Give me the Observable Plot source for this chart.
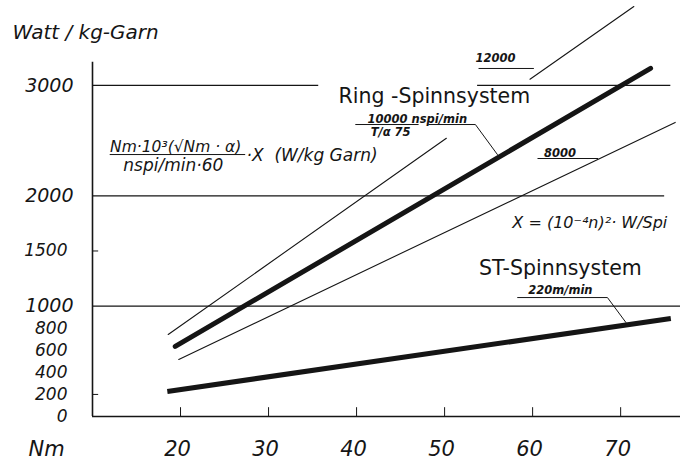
<!DOCTYPE html>
<html><head><meta charset="utf-8">
<script src="https://cdn.jsdelivr.net/npm/d3@7"></script>
<script src="https://cdn.jsdelivr.net/npm/@observablehq/plot@0.6"></script>
<style>
body{margin:0;background:#fff}
svg{font-family:"DejaVu Sans",sans-serif}
</style></head><body><div id="chart"></div>
<script>
// ---- data ----
const nmTicks = [20, 30, 40, 50, 60, 70];
const yTicksBig = [1000, 2000, 3000];
const yTicksSmall = [0, 200, 400, 600, 800, 1500];
const yMinorTicks = [200, 1500];

// Ring-Spinnsystem, 12000 nspi/min (interrupted for the labels)
const ring12000 = [
  {nm: 18.6, w: 743}, {nm: 50.2, w: 2522},
  {nm: null, w: null},
  {nm: 59.7, w: 3057}, {nm: 71.5, w: 3716}
];
// Ring-Spinnsystem, 10000 nspi/min
const ring10000 = [{nm: 19.4, w: 635}, {nm: 73.4, w: 3155}];
// Ring-Spinnsystem, 8000 nspi/min
const ring8000 = [{nm: 19.8, w: 517}, {nm: 76.2, w: 2665}];
// ST-Spinnsystem, 220 m/min
const st220 = [{nm: 18.5, w: 227}, {nm: 75.7, w: 888}];

// horizontal grid lines
const gridLines = [
  {w: 1000, from: 10, to: 76.8},
  {w: 2000, from: 10, to: 75.0},
  {w: 3000, from: 10, to: 35.7},
  {w: 3000, from: 53.75, to: 75.7}
];

// leader / underline segments of the labels
const leaders = [
  {id: "12000", nm: 53.9, w: 3154}, {id: "12000", nm: 60.1, w: 3154},
  {id: "10000a", nm: 39.9, w: 2646}, {id: "10000a", nm: 47.0, w: 2646},
  {id: "10000b", nm: 48.2, w: 2646}, {id: "10000b", nm: 53.5, w: 2646}, {id: "10000b", nm: 56.0, w: 2374},
  {id: "8000", nm: 60.6, w: 2338}, {id: "8000", nm: 67.4, w: 2338},
  {id: "220", nm: 58.3, w: 1078}, {id: "220", nm: 68.5, w: 1078}, {id: "220", nm: 70.6, w: 852},
  {id: "frac", nm: 12.0, w: 2374}, {id: "frac", nm: 27.3, w: 2374}
];

const smallLabels = [
  {nm: 53.5, w: 3217, t: "12000"},
  {nm: 41.25, w: 2664, t: "10000 nspi/min"},
  {nm: 41.6, w: 2538, t: "T/α 75"},
  {nm: 61.3, w: 2356, t: "8000"},
  {nm: 59.5, w: 1106, t: "220m/min"}
];
const systemLabels = [
  {nm: 37.95, w: 2837, t: "Ring -Spinnsystem"},
  {nm: 53.9, w: 1278, t: "ST-Spinnsystem"}
];
const formulaLabels = [
  {nm: 12.0, w: 2393, t: "Nm·10³(√Nm · α)", s: 15.5},
  {nm: 13.5, w: 2229, t: "nspi/min·60", s: 17},
  {nm: 27.5, w: 2320, t: "·X  (W/kg Garn)", s: 17},
  {nm: 57.7, w: 1704, t: "X = (10⁻⁴n)²· W/Spi", s: 16}
];

const ink = "#151515";

const chart = Plot.plot({
  width: 685, height: 463,
  marginLeft: 92, marginRight: 5, marginTop: 0, marginBottom: 47,
  x: {domain: [10, 76.8], axis: null},
  y: {domain: [0, 3770], axis: null},
  marks: [
    // grid lines
    Plot.ruleY(gridLines, {y: "w", x1: "from", x2: "to", stroke: ink, strokeWidth: 1.2}),
    // axes
    Plot.ruleX([10], {y1: 0, y2: 3210, stroke: ink, strokeWidth: 1.6}),
    Plot.ruleY([0], {x1: 10, x2: 76.8, stroke: ink, strokeWidth: 1.6}),
    Plot.ruleX(nmTicks, {x: d => d, y1: 0, y2: 80, stroke: ink, strokeWidth: 1}),
    Plot.ruleY(yMinorTicks, {y: d => d, x1: 10, x2: 10.7, stroke: ink, strokeWidth: 1}),
    // tick labels
    Plot.text(yTicksBig, {y: d => d, text: d => String(d), frameAnchor: "left", dx: -19, textAnchor: "end", lineAnchor: "middle", fontSize: 19, fontStyle: "italic", fill: ink}),
    Plot.text(yTicksSmall, {y: d => d, text: d => String(d), frameAnchor: "left", dx: -25, textAnchor: "end", lineAnchor: "middle", fontSize: 17, fontStyle: "italic", fill: ink}),
    Plot.text(nmTicks, {x: d => d, text: d => String(d), frameAnchor: "bottom", dy: 33, dx: -3, lineAnchor: "middle", fontSize: 21, fontStyle: "italic", fill: ink}),
    Plot.text(["Nm"], {text: d => d, frameAnchor: "bottom-left", dx: -64, dy: 33, lineAnchor: "middle", fontSize: 21, fontStyle: "italic", fill: ink}),
    Plot.text(["Watt / kg-Garn"], {text: d => d, frameAnchor: "top-left", dx: -80, dy: 38, textAnchor: "start", lineAnchor: "bottom", fontSize: 20, fontStyle: "italic", fill: ink}),
    // curves
    Plot.line(ring12000, {x: "nm", y: "w", stroke: ink, strokeWidth: 1.1}),
    Plot.line(ring8000, {x: "nm", y: "w", stroke: ink, strokeWidth: 1.1}),
    Plot.line(ring10000, {x: "nm", y: "w", stroke: ink, strokeWidth: 5, strokeLinecap: "round"}),
    Plot.line(st220, {x: "nm", y: "w", stroke: ink, strokeWidth: 5, strokeLinecap: "butt"}),
    // leaders
    Plot.line(leaders, {x: "nm", y: "w", z: "id", stroke: ink, strokeWidth: 1}),
    // labels
    Plot.text(smallLabels, {x: "nm", y: "w", text: "t", textAnchor: "start", lineAnchor: "bottom", fontSize: 11.5, fontWeight: "bold", fontStyle: "italic", fill: ink}),
    Plot.text(systemLabels, {x: "nm", y: "w", text: "t", textAnchor: "start", lineAnchor: "bottom", fontSize: 20.5, fill: ink}),
    Plot.text(formulaLabels, {x: "nm", y: "w", text: "t", fontSize: "s", textAnchor: "start", lineAnchor: "bottom", fontStyle: "italic", fill: ink})
  ]
});
document.getElementById("chart").appendChild(chart);
</script></body></html>
